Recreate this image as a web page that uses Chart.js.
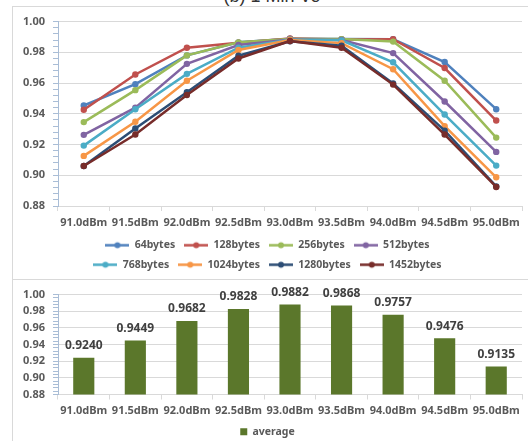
<!DOCTYPE html>
<html>
<head>
<meta charset="utf-8">
<script src="https://cdn.jsdelivr.net/npm/chart.js@4/dist/chart.umd.min.js"></script>
<style>
  html, body { margin: 0; padding: 0; background: #fff; }
  body { width: 528px; height: 441px; overflow: hidden; position: relative; }
  .frame { position: absolute; left: 12px; width: 540px; border: 1px solid #d9d9d9; box-sizing: border-box; }
  #frameTop { top: 6px; height: 274px; }
  #frameBottom { top: 279px; height: 180px; }
  .wrap { position: absolute; left: 13px; width: 515px; }
  #wrapTop { top: 7px; height: 273px; }
  #wrapBottom { top: 280px; height: 167px; }
  #caption { position: absolute; left: 0; width: 544px; top: -14px; text-align: center;
             font: 18px "Liberation Sans", Arial, sans-serif; color: #333; white-space: nowrap; }
</style>
</head>
<body>
<div id="caption">(b) 1 Min Vo</div>
<div class="frame" id="frameTop"></div>
<div class="frame" id="frameBottom"></div>
<div class="wrap" id="wrapTop"><canvas id="lineChart"></canvas></div>
<div class="wrap" id="wrapBottom"><canvas id="barChart"></canvas></div>
<script>
// Received power levels on the category axis
const categories = ['91.0dBm', '91.5dBm', '92.0dBm', '92.5dBm', '93.0dBm', '93.5dBm', '94.0dBm', '94.5dBm', '95.0dBm'];

// Packet sizes and their success ratios per power level
const seriesNames = ['64bytes', '128bytes', '256bytes', '512bytes', '768bytes', '1024bytes', '1280bytes', '1452bytes'];
const bytes64   = [0.9454, 0.9593, 0.9780, 0.9865, 0.9888, 0.9886, 0.9885, 0.9737, 0.9430];
const bytes128  = [0.9426, 0.9656, 0.9830, 0.9862, 0.9890, 0.9884, 0.9885, 0.9698, 0.9356];
const bytes256  = [0.9346, 0.9554, 0.9780, 0.9865, 0.9886, 0.9886, 0.9870, 0.9615, 0.9245];
const bytes512  = [0.9263, 0.9440, 0.9725, 0.9848, 0.9884, 0.9880, 0.9795, 0.9480, 0.9152];
const bytes768  = [0.9193, 0.9430, 0.9660, 0.9830, 0.9882, 0.9878, 0.9735, 0.9395, 0.9063];
const bytes1024 = [0.9126, 0.9348, 0.9615, 0.9815, 0.9880, 0.9860, 0.9690, 0.9320, 0.8987];
const bytes1280 = [0.9060, 0.9305, 0.9540, 0.9778, 0.9872, 0.9843, 0.9598, 0.9290, 0.8928];
const bytes1452 = [0.9060, 0.9265, 0.9522, 0.9760, 0.9874, 0.9830, 0.9590, 0.9265, 0.8924];

// Mean over all packet sizes
const averageName = 'average';
const averageValues = [0.9240, 0.9449, 0.9682, 0.9828, 0.9882, 0.9868, 0.9757, 0.9476, 0.9135];

// Value axis range and tick spacing
const axisMin = 0.88;
const axisMax = 1.00;
const minorStep = 0.004;
const majorStep = 0.02;

const seriesValues = [bytes64, bytes128, bytes256, bytes512, bytes768, bytes1024, bytes1280, bytes1452];
const seriesColors = ['#4F81BD', '#C0504D', '#9BBB59', '#8064A2', '#4BACC6', '#F79646', '#2C4D75', '#772C2A'];

const labelFont = { family: '"Noto Sans", "DejaVu Sans", sans-serif', size: 11, weight: 'bold' };
const legendFont = { family: '"Noto Sans", "DejaVu Sans", sans-serif', size: 10.5, weight: 'bold' };
const textColor = '#595959';
const gridColor = '#d9d9d9';
const axisColor = '#a9bdd6';

function isMajor(v) {
  return Math.abs(Math.round((v - axisMin) / majorStep) * majorStep - (v - axisMin)) < 1e-6;
}

function valueAxis() {
  return {
    min: axisMin,
    max: axisMax,
    afterFit(scale) { scale.width = 45; },
    border: { color: axisColor, width: 1 },
    grid: {
      color: c => (c.tick && isMajor(c.tick.value)) ? gridColor : 'rgba(0,0,0,0)',
      tickColor: axisColor,
      tickLength: 5,
      drawTicks: true
    },
    ticks: {
      stepSize: minorStep,
      autoSkip: false,
      padding: 8,
      color: textColor,
      font: labelFont,
      callback: v => isMajor(v) ? v.toFixed(2) : ''
    }
  };
}

function categoryAxis(height) {
  return {
    offset: true,
    afterFit(scale) { scale.height = height; },
    border: { color: gridColor, width: 1 },
    grid: { offset: true, drawOnChartArea: false, drawTicks: true, tickLength: 5, tickColor: gridColor },
    ticks: { color: textColor, font: labelFont, padding: 5, autoSkip: false, maxRotation: 0 }
  };
}

// Legend marker: short line with a dot, as used for line series
function lineMarker(color) {
  const c = document.createElement('canvas');
  c.width = 24; c.height = 9;
  const g = c.getContext('2d');
  g.strokeStyle = color; g.lineWidth = 2.5;
  g.beginPath(); g.moveTo(0, 4.5); g.lineTo(24, 4.5); g.stroke();
  g.fillStyle = color;
  g.beginPath(); g.arc(12, 4.5, 3, 0, Math.PI * 2); g.fill();
  return c;
}

// Wrap the legend rows at a fixed width so items form two rows of four
const legendRowWidth = {
  id: 'legendRowWidth',
  beforeLayout(chart, args, opts) {
    const lg = chart.legend;
    if (lg && !lg.__rowWidth) {
      const orig = lg.update.bind(lg);
      lg.update = (w, h, m) => orig(Math.min(w, opts.width || w), h, m);
      lg.__rowWidth = true;
    }
  }
};

// Value text above each bar, taken from the bar's own data value
const barValueLabels = {
  id: 'barValueLabels',
  afterDatasetsDraw(chart) {
    const ctx = chart.ctx;
    chart.data.datasets.forEach((ds, i) => {
      const meta = chart.getDatasetMeta(i);
      meta.data.forEach((bar, j) => {
        ctx.save();
        ctx.font = 'bold 12px "Noto Sans", "DejaVu Sans", sans-serif';
        ctx.fillStyle = '#404040';
        ctx.textAlign = 'center';
        ctx.textBaseline = 'middle';
        ctx.fillText(ds.data[j].toFixed(4), bar.x, bar.y - 12);
        ctx.restore();
      });
    });
  }
};

const lineDatasets = seriesNames.map((name, i) => ({
  label: name,
  data: seriesValues[i],
  borderColor: seriesColors[i],
  backgroundColor: seriesColors[i],
  borderWidth: 2.5,
  pointRadius: 3.2,
  pointBorderWidth: 0,
  pointBackgroundColor: seriesColors[i],
  pointHoverRadius: 3.2,
  tension: 0,
  order: seriesNames.length - i
}));

new Chart(document.getElementById('lineChart'), {
  type: 'line',
  data: { labels: categories, datasets: lineDatasets },
  plugins: [legendRowWidth],
  options: {
    responsive: true,
    maintainAspectRatio: false,
    animation: false,
    layout: { padding: { top: 11, right: 6, left: 0, bottom: 0 } },
    scales: { x: categoryAxis(25), y: valueAxis() },
    plugins: {
      tooltip: { enabled: false },
      legendRowWidth: { width: 380 },
      legend: {
        position: 'bottom',
        labels: {
          usePointStyle: true,
          pointStyleWidth: 24,
          padding: 9,
          color: textColor,
          font: legendFont,
          generateLabels(chart) {
            return chart.data.datasets.map((ds, i) => ({
              text: ds.label,
              fillStyle: ds.borderColor,
              strokeStyle: ds.borderColor,
              fontColor: textColor,
              lineWidth: 0,
              hidden: !chart.isDatasetVisible(i),
              pointStyle: lineMarker(ds.borderColor),
              rotation: 0,
              datasetIndex: i
            }));
          }
        }
      }
    }
  }
});

new Chart(document.getElementById('barChart'), {
  type: 'bar',
  data: {
    labels: categories,
    datasets: [{
      label: averageName,
      data: averageValues,
      backgroundColor: '#5B772B',
      borderWidth: 0,
      categoryPercentage: 1.0,
      barPercentage: 0.41
    }]
  },
  plugins: [barValueLabels],
  options: {
    responsive: true,
    maintainAspectRatio: false,
    animation: false,
    layout: { padding: { top: 12, right: 6, left: 0, bottom: 0 } },
    scales: { x: categoryAxis(22), y: valueAxis() },
    plugins: {
      tooltip: { enabled: false },
      legend: {
        position: 'bottom',
        labels: { boxWidth: 7, boxHeight: 7, padding: 10, color: textColor, font: legendFont }
      }
    }
  }
});
</script>
</body>
</html>
